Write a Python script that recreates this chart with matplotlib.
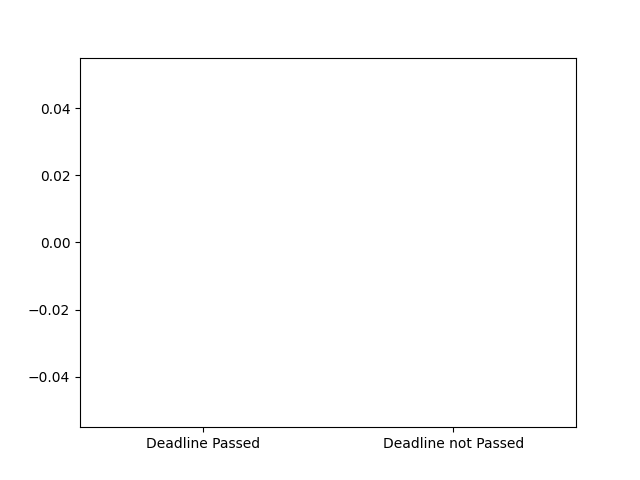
import matplotlib

matplotlib.use("Agg")
import matplotlib.pyplot as plt

categories = ["Deadline Passed", "Deadline not Passed"]
counts = [0, 0]

fig, ax = plt.subplots(figsize=(6.4, 4.8), dpi=100)
ax.bar(categories, counts)

fig.savefig("out.png", dpi=100)
plt.close(fig)
